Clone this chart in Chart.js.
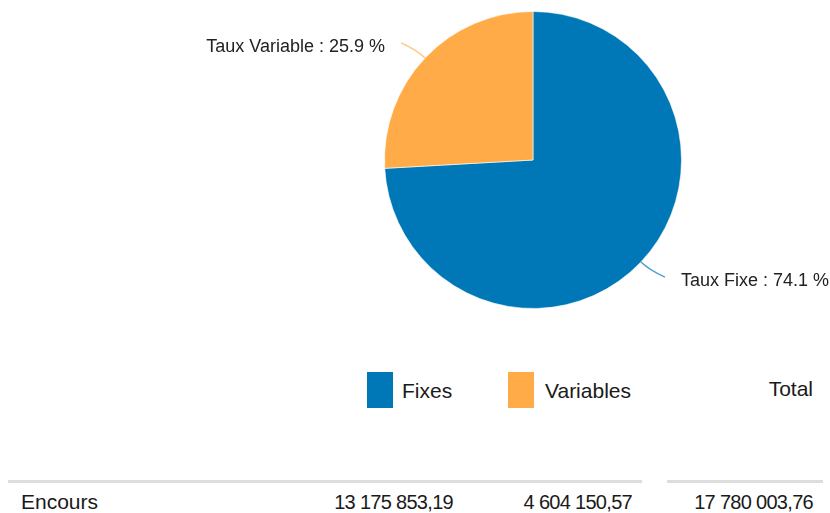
<!DOCTYPE html>
<html lang="fr">
<head>
<meta charset="utf-8">
<title>Répartition de l'encours</title>
<script src="https://cdn.jsdelivr.net/npm/chart.js@4.4.0/dist/chart.umd.min.js"></script>
<style>
  body { margin: 0; background: #fff; font-family: "Liberation Sans", Arial, sans-serif; color: #1a1a1a; }
  #wrap { position: relative; width: 830px; height: 513px; overflow: hidden; }
  #chartBox { position: absolute; left: 0; top: 0; width: 830px; height: 320px; }
  .cell { position: absolute; white-space: nowrap; }
  .swatch { position: absolute; width: 26px; height: 36px; top: 372px; }
  .rule { position: absolute; top: 480px; height: 3px; background: #dddddd; }
  .lbl { font-size: 21px; line-height: 21px; }
  .num { font-size: 20px; line-height: 20px; letter-spacing: -0.7px; text-align: right; }
</style>
</head>
<body>
<div id="wrap">
  <div id="chartBox"><canvas id="pie"></canvas></div>
  <div id="table"></div>
</div>
<script>
// Données
const categories = ["Fixes", "Variables"];
const sliceLabels = ["Taux Fixe", "Taux Variable"];
const encours = [13175853.19, 4604150.57];
const rowLabel = "Encours";
const totalLabel = "Total";

const sliceColors = ["#0077b6", "#ffab47"];
const leaderColors = ["#4b9fd1", "#ffc583"];

const total = encours.reduce((s, v) => s + v, 0);

function formatNumber(v) {
  const [ent, dec] = v.toFixed(2).split(".");
  return ent.replace(/\B(?=(\d{3})+(?!\d))/g, " ") + "," + dec;
}

// Étiquettes extérieures avec lignes de rappel
const outerLabels = {
  id: "outerLabels",
  afterDatasetsDraw(chart) {
    const ctx = chart.ctx;
    const meta = chart.getDatasetMeta(0);
    meta.data.forEach((arc, i) => {
      const mid = (arc.startAngle + arc.endAngle) / 2;
      const dx = Math.cos(mid), dy = Math.sin(mid);
      const r = arc.outerRadius;
      const side = dx >= 0 ? 1 : -1;
      const p0 = { x: arc.x + dx * r, y: arc.y + dy * r };
      const c = { x: arc.x + dx * (r + 12), y: arc.y + dy * (r + 12) };
      const p2 = { x: arc.x + dx * (r + 22) + side * 8, y: arc.y + dy * (r + 22) };

      ctx.save();
      ctx.strokeStyle = leaderColors[i];
      ctx.lineWidth = 1.5;
      ctx.beginPath();
      ctx.moveTo(p0.x, p0.y);
      ctx.quadraticCurveTo(c.x, c.y, p2.x, p2.y);
      ctx.stroke();

      const pct = (encours[i] / total * 100).toFixed(1);
      ctx.font = '18px "Liberation Sans", Arial, sans-serif';
      ctx.fillStyle = "#222222";
      ctx.textBaseline = "middle";
      ctx.textAlign = side > 0 ? "left" : "right";
      ctx.fillText(sliceLabels[i] + " : " + pct + " %", p2.x + side * 16, p2.y + 4);
      ctx.restore();
    });
  }
};

new Chart(document.getElementById("pie"), {
  type: "pie",
  data: {
    labels: categories,
    datasets: [{
      data: encours,
      backgroundColor: sliceColors,
      borderColor: "rgba(255,255,255,0.6)",
      borderWidth: 1,
      hoverOffset: 0
    }]
  },
  options: {
    responsive: true,
    maintainAspectRatio: false,
    animation: false,
    layout: { padding: { left: 236, right: 0, top: 11, bottom: 11 } },
    plugins: {
      legend: { display: false },
      tooltip: { enabled: false }
    }
  },
  plugins: [outerLabels]
});

// Tableau sous le graphique
const swatchLeft = [367, 508];
const nameLeft = [402, 545];
const valueRight = [453, 632];
const totalRight = 813;

const table = document.getElementById("table");
let html = "";
categories.forEach((cat, i) => {
  html += `<div class="swatch" style="left:${swatchLeft[i]}px;background:${sliceColors[i]}"></div>`;
  html += `<div class="cell lbl" style="left:${nameLeft[i]}px;top:380px">${cat}</div>`;
  html += `<div class="cell num" style="right:${830 - valueRight[i]}px;top:492px">${formatNumber(encours[i])}</div>`;
});
html += `<div class="cell lbl" style="right:${830 - totalRight}px;top:378px">${totalLabel}</div>`;
html += `<div class="rule" style="left:8px;width:634px"></div>`;
html += `<div class="rule" style="left:667px;width:156px"></div>`;
html += `<div class="cell lbl" style="left:21px;top:491px">${rowLabel}</div>`;
html += `<div class="cell num" style="right:${830 - totalRight}px;top:492px">${formatNumber(total)}</div>`;
table.innerHTML = html;
</script>
</body>
</html>
